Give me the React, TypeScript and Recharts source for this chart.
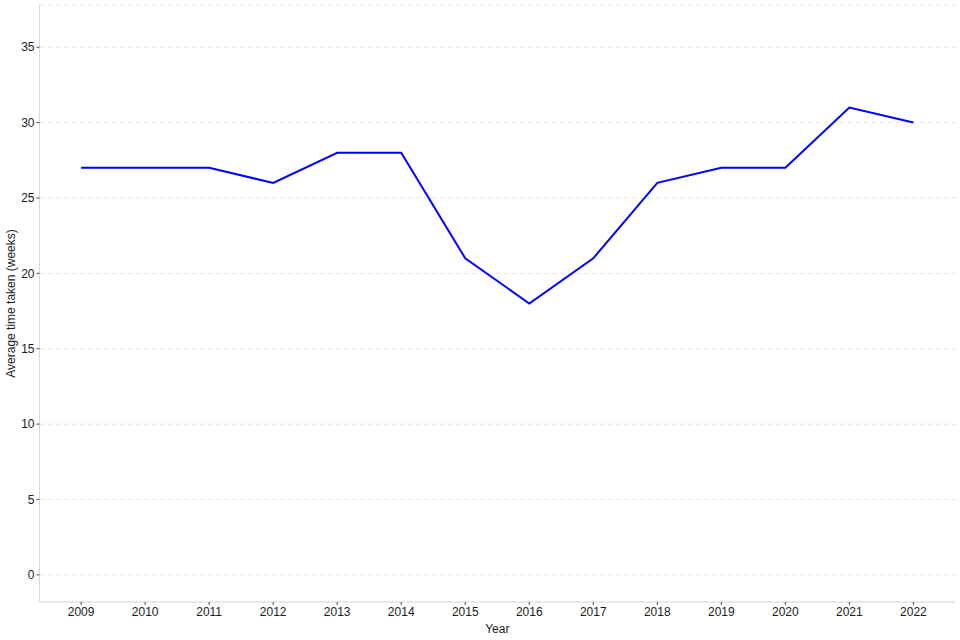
import { LineChart, Line, XAxis, YAxis, CartesianGrid, Label } from "recharts";

const years = [2009, 2010, 2011, 2012, 2013, 2014, 2015, 2016, 2017, 2018, 2019, 2020, 2021, 2022];
const avgWeeks = [27, 27, 27, 26, 28, 28, 21, 18, 21, 26, 27, 27, 31, 30];
const yTicks = [0, 5, 10, 15, 20, 25, 30, 35];

const data = years.map((year, i) => ({ year, weeks: avgWeeks[i] }));

const font = '"Liberation Sans", Arial, Helvetica, sans-serif';
const tickStyle = { fontSize: 12, fill: "#1a1a1a", fontFamily: font };

export default function App() {
  return (
    <div style={{ position: "absolute", left: 0, top: 0, width: 960, height: 640, background: "#fff" }}>
      <LineChart width={960} height={640} data={data} margin={{ top: 5, right: 5, left: 0, bottom: 0 }}>
        <CartesianGrid vertical={false} stroke="#e3e3e3" strokeDasharray="4 4" />
        <XAxis
          dataKey="year"
          type="number"
          domain={[2008.35, 2022.65]}
          ticks={years}
          interval={0}
          height={38}
          tickSize={3}
          tickMargin={2}
          tick={tickStyle}
          tickLine={{ stroke: "#4d4d4d" }}
          axisLine={{ stroke: "#d9d9d9" }}
        >
          <Label
            content={({ viewBox }: any) => (
              <text
                x={viewBox.x + viewBox.width / 2}
                y={viewBox.y + 31}
                textAnchor="middle"
                style={{ fontSize: 12, fill: "#1a1a1a", fontFamily: font }}
              >
                Year
              </text>
            )}
          />
        </XAxis>
        <YAxis
          domain={[-1.8, 37.8]}
          ticks={yTicks}
          interval={0}
          width={39.5}
          tickSize={3}
          tickMargin={2}
          tick={tickStyle}
          tickLine={{ stroke: "#4d4d4d" }}
          axisLine={{ stroke: "#d9d9d9" }}
        >
          <Label
            content={({ viewBox }: any) => {
              const cx = viewBox.x + 15;
              const cy = viewBox.y + viewBox.height / 2;
              return (
                <text
                  x={cx}
                  y={cy}
                  transform={`rotate(-90, ${cx}, ${cy})`}
                  textAnchor="middle"
                  style={{ fontSize: 12, fill: "#1a1a1a", fontFamily: font }}
                >
                  Average time taken (weeks)
                </text>
              );
            }}
          />
        </YAxis>
        <Line
          type="linear"
          dataKey="weeks"
          stroke="#0000ff"
          strokeWidth={2}
          dot={false}
          isAnimationActive={false}
        />
      </LineChart>
    </div>
  );
}
